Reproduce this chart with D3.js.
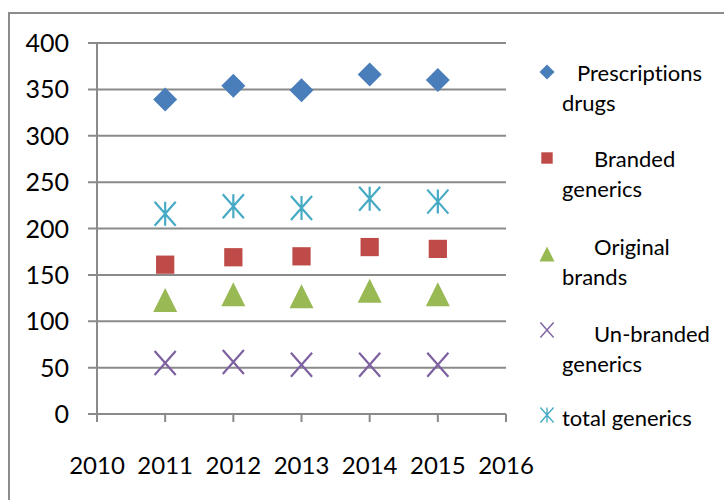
<!DOCTYPE html>
<html>
<head>
<meta charset="utf-8">
<script src="https://cdn.jsdelivr.net/npm/d3@7/dist/d3.min.js"></script>
<style>
  html, body { margin: 0; padding: 0; background: #fff; }
  svg { display: block; }
  text { font-family: Lato, "Noto Sans", sans-serif; fill: #000; font-variant-ligatures: none; }
</style>
</head>
<body>
<svg id="chart" width="724" height="500"></svg>
<script>
// Years on the x axis and the yearly values of each series
const years = [2011, 2012, 2013, 2014, 2015];
const prescriptionsDrugs = [339, 354, 349, 366, 360];
const brandedGenerics = [161, 169, 170, 180, 178];
const originalBrands = [123, 129, 127, 133, 129];
const unbrandedGenerics = [55, 56, 53, 53, 53];
const totalGenerics = [216, 224, 222, 232, 229];

const xTicks = [2010, 2011, 2012, 2013, 2014, 2015, 2016];
const yTicks = [0, 50, 100, 150, 200, 250, 300, 350, 400];

const seriesNames = ["Prescriptions drugs", "Branded generics", "Original brands", "Un-branded generics", "total generics"];

// Legend labels wrap onto two lines; the first line is indented
const series = [
  { name: seriesNames[0], values: prescriptionsDrugs, shape: "diamond", color: "#4a7ebb",
    lines: [["Prescriptions", 577, 0], ["drugs", 562, 1]] },
  { name: seriesNames[1], values: brandedGenerics, shape: "square", color: "#be4b48",
    lines: [["Branded", 594, 0], ["generics", 562, 1]] },
  { name: seriesNames[2], values: originalBrands, shape: "triangle", color: "#98b954",
    lines: [["Original", 594, 0], ["brands", 562, 1]] },
  { name: seriesNames[3], values: unbrandedGenerics, shape: "x", color: "#7d60a0",
    lines: [["Un-branded", 594, 0], ["generics", 562, 1]] },
  { name: seriesNames[4], values: totalGenerics, shape: "star", color: "#46aac5",
    lines: [["total generics", 562, 0]] }
];

const svg = d3.select("#chart");

// Outer chart frame
svg.append("rect")
  .attr("x", 9).attr("y", 13)
  .attr("width", 730).attr("height", 500)
  .attr("fill", "none").attr("stroke", "#8c8c8c").attr("stroke-width", 2);

const x = d3.scaleLinear().domain([2010, 2016]).range([97, 506]);
const y = d3.scaleLinear().domain([0, 400]).range([414, 43]);

const gridColor = "#8a8a8a";

// Horizontal gridlines (extend slightly left of the axis as tick marks)
svg.append("g").selectAll("line").data(yTicks).join("line")
  .attr("x1", x(2010) - 9).attr("x2", x(2016))
  .attr("y1", d => y(d)).attr("y2", d => y(d))
  .attr("stroke", gridColor).attr("stroke-width", 2);

// Y axis line
svg.append("line")
  .attr("x1", x(2010)).attr("x2", x(2010))
  .attr("y1", y(400)).attr("y2", y(0) + 8)
  .attr("stroke", gridColor).attr("stroke-width", 2);

// X axis tick marks
svg.append("g").selectAll("line").data(xTicks).join("line")
  .attr("x1", d => x(d)).attr("x2", d => x(d))
  .attr("y1", y(0)).attr("y2", y(0) + 8)
  .attr("stroke", gridColor).attr("stroke-width", 2);

// Y tick labels
svg.append("g").selectAll("text").data(yTicks).join("text")
  .attr("x", 69).attr("y", d => y(d))
  .attr("dy", "0.36em")
  .attr("text-anchor", "end")
  .attr("font-size", 25)
  .text(d => d);

// X tick labels
svg.append("g").selectAll("text").data(xTicks).join("text")
  .attr("x", d => x(d)).attr("y", 474)
  .attr("text-anchor", "middle")
  .attr("font-size", 24)
  .text(d => d);

// Marker drawing helper; s is the nominal marker size
function drawMarker(g, shape, color, s) {
  const h = s / 2;
  if (shape === "diamond") {
    g.append("path").attr("d", `M0,${-h}L${h},0L0,${h}L${-h},0Z`).attr("fill", color);
  } else if (shape === "square") {
    const w = s * 0.76;
    g.append("rect").attr("x", -w / 2).attr("y", -w / 2).attr("width", w).attr("height", w).attr("fill", color);
  } else if (shape === "triangle") {
    g.append("path").attr("d", `M0,${-h}L${h},${h}L${-h},${h}Z`).attr("fill", color);
  } else if (shape === "x") {
    const wx = h * 0.88;
    g.append("path").attr("d", `M${-wx},${-h}L${wx},${h}M${wx},${-h}L${-wx},${h}`)
      .attr("stroke", color).attr("stroke-width", s / 11).attr("fill", "none");
  } else if (shape === "star") {
    const wx = h * 0.88;
    g.append("path").attr("d", `M${-wx},${-h}L${wx},${h}M${wx},${-h}L${-wx},${h}M0,${-h}L0,${h}`)
      .attr("stroke", color).attr("stroke-width", s / 11).attr("fill", "none");
  }
}

// Data markers
series.forEach(sr => {
  const g = svg.append("g");
  sr.values.forEach((v, i) => {
    const m = g.append("g").attr("transform", `translate(${x(years[i])},${y(v)})`);
    drawMarker(m, sr.shape, sr.color, 24);
  });
});

// Legend
const legendMarkerX = 547;
const legendMarkerY = [72, 158, 254, 330, 415];
const legendBaseline = [81, 167, 255, 342, 426];
series.forEach((sr, i) => {
  const m = svg.append("g").attr("transform", `translate(${legendMarkerX},${legendMarkerY[i]})`);
  drawMarker(m, sr.shape, sr.color, 15);
  sr.lines.forEach(([txt, tx, row]) => {
    svg.append("text")
      .attr("x", tx).attr("y", legendBaseline[i] + row * 30)
      .attr("font-size", 22)
      .text(txt);
  });
});
</script>
</body>
</html>
